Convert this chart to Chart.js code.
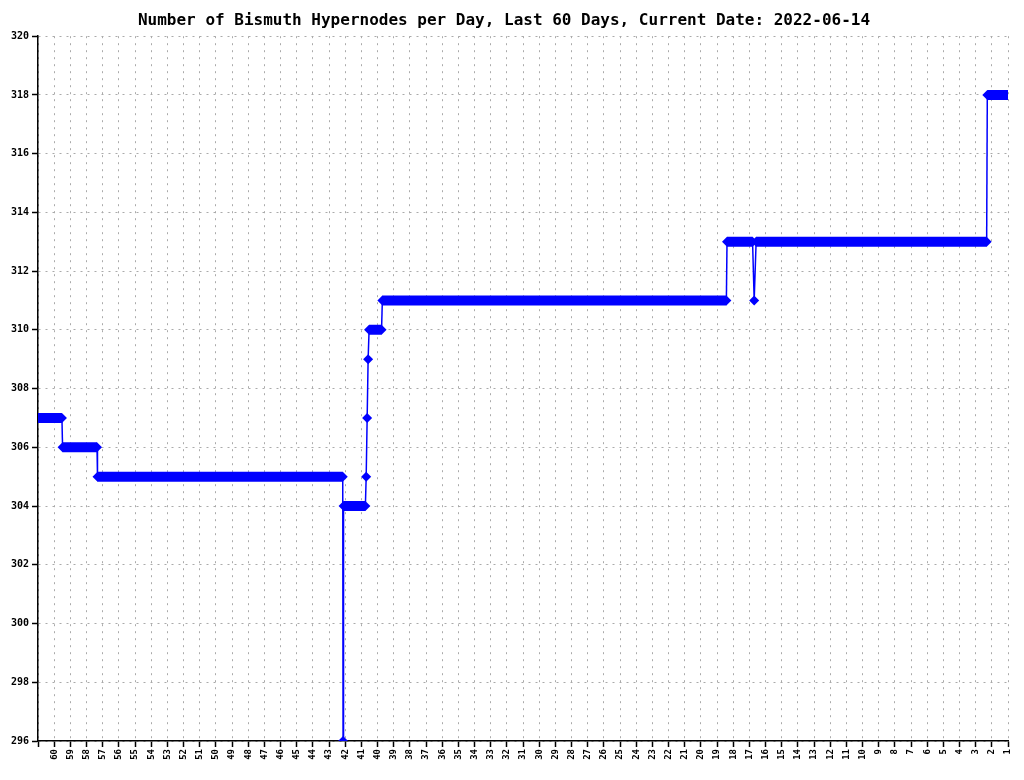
<!DOCTYPE html>
<html><head><meta charset="utf-8">
<script src="https://cdn.jsdelivr.net/npm/chart.js@4.4.0/dist/chart.umd.min.js"></script>
<style>html,body{margin:0;padding:0;background:#fff}#w{width:1024px;height:780px}</style>
</head><body><div id="w"><canvas id="c"></canvas></div>
<script>
const titleText = "Number of Bismuth Hypernodes per Day, Last 60 Days, Current Date: 2022-06-14";
// x = days elapsed from the start of the 60-day window (left edge = day 60 ago)
const stepX = [0, 1.48, 1.52, 3.65, 3.68, 18.85, 18.87, 18.9, 20.25, 20.3, 20.36, 20.42, 20.48, 21.25, 21.3, 42.58, 42.62, 44.2, 44.3, 44.42, 58.68, 58.72, 60];
const stepY = [307, 307, 306, 306, 305, 305, 296, 304, 304, 305, 307, 309, 310, 310, 311, 311, 313, 313, 311, 313, 313, 318, 318];
const yTicks = [296, 298, 300, 302, 304, 306, 308, 310, 312, 314, 316, 318, 320];
const dayLabels = Array.from({length: 61}, (_, i) => i === 0 ? '' : String(61 - i));

const pts = stepX.map((x, i) => ({x, y: stepY[i]}));
new Chart(document.getElementById('c'), {
  type: 'line',
  data: {datasets: [{
    data: pts,
    borderColor: '#0000ff',
    backgroundColor: '#0000ff',
    pointStyle: 'rectRot',
    pointRadius: 5,
    pointBorderWidth: 0,
    tension: 0,
    segment: {borderWidth: c => c.p0.parsed.y === c.p1.parsed.y ? 10 : 1.5}
  }]},
  options: {
    responsive: true, maintainAspectRatio: false, animation: false,
    layout: {padding: {right: 16, left: 0, top: 0, bottom: 0}},
    plugins: {
      legend: {display: false}, tooltip: {enabled: false},
      title: {display: true, text: titleText, color: '#000',
        font: {family: 'DejaVu Sans Mono', size: 16, weight: 'bold'}, padding: {top: 11, bottom: 6}}
    },
    scales: {
      x: {type: 'linear', min: 0, max: 60,
        afterFit: s => { s.height = 39; },
        afterBuildTicks: s => { s.ticks = dayLabels.map((_, i) => ({value: i})); },
        ticks: {autoSkip: false, minRotation: 90, maxRotation: 90, color: '#000',
          font: {family: 'DejaVu Sans Mono', size: 9, weight: 'bold'}, padding: 2,
          callback: v => dayLabels[v]},
        grid: {color: '#aaaaaa', tickColor: '#000', tickLength: 6, lineWidth: 1, tickWidth: 1.5},
        border: {display: true, color: '#000', width: 1.5, dash: [2, 5]}
      },
      y: {min: 296, max: 320,
        afterFit: s => { s.width = 38; },
        afterBuildTicks: s => { s.ticks = yTicks.map(v => ({value: v})); },
        ticks: {color: '#000', font: {family: 'DejaVu Sans Mono', size: 10, weight: 'bold'}, padding: 3},
        grid: {color: '#aaaaaa', tickColor: '#000', tickLength: 6, lineWidth: 1, tickWidth: 1.5},
        border: {display: true, color: '#000', width: 1.5, dash: [2, 5]}
      }
    }
  }
});
</script></body></html>
